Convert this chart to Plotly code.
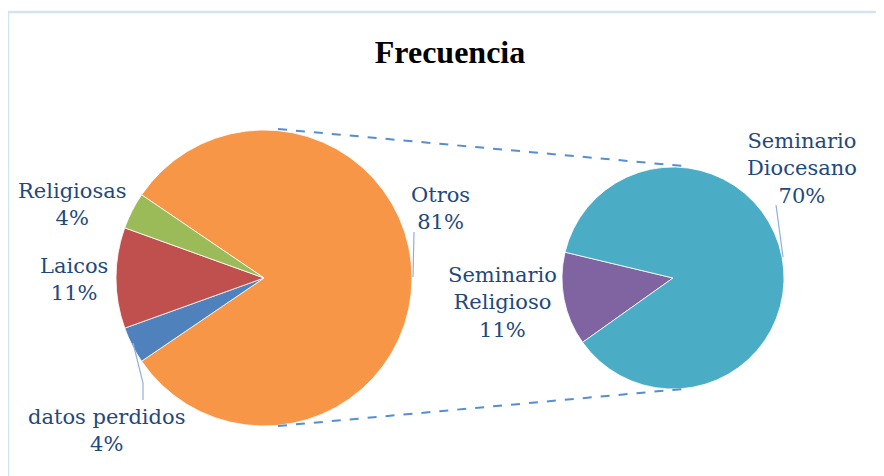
import plotly.graph_objects as go

W, H = 884, 476
OFF = 8  # page body margin of the browser

# data
main_labels = ["Otros", "datos perdidos", "Laicos", "Religiosas"]
main_values = [81, 4, 11, 4]
main_colors = ["#F79646", "#4F81BD", "#C0504D", "#9BBB59"]

sub_labels = ["Seminario Religioso", "Seminario Diocesano"]
sub_values = [11, 70]
sub_colors = ["#8064A2", "#4BACC6"]

total = sum(main_values)

TEXT_COLOR = "#1F497D"
LEADER_COLOR = "rgba(141, 177, 226, 1)"
DASH_COLOR = "rgba(85, 142, 213, 1)"
FONT = "DejaVu Serif"


def px(x):
    return (x - OFF) / W


def py(y):
    return 1 - (y - OFF) / H


def pct(v):
    return f"{round(100 * v / total)}%"


fig = go.Figure()

# main pie: "Otros" centred at 3 o'clock
main_rot = 90 - 360 * main_values[0] / total / 2
fig.add_trace(
    go.Pie(
        labels=main_labels,
        values=main_values,
        sort=False,
        direction="clockwise",
        rotation=main_rot,
        marker=dict(colors=main_colors, line=dict(color="white", width=0.8)),
        textinfo="none",
        hoverinfo="label+value",
        showlegend=False,
        domain=dict(x=[px(116), px(412)], y=[py(426), py(130)]),
    )
)

# secondary pie: "Seminario Religioso" centred a little below 9 o'clock
sub_total = sum(sub_values)
sub_rot = 259 - 360 * sub_values[0] / sub_total / 2
fig.add_trace(
    go.Pie(
        labels=sub_labels,
        values=sub_values,
        sort=False,
        direction="clockwise",
        rotation=sub_rot,
        marker=dict(colors=sub_colors, line=dict(color="white", width=0.8)),
        textinfo="none",
        hoverinfo="label+value",
        showlegend=False,
        domain=dict(x=[px(562), px(784)], y=[py(389), py(167)]),
    )
)

# label positions (pixel centres)
label_pos = {
    "Otros": (440, 208),
    "datos perdidos": (106, 430),
    "Laicos": (74, 279),
    "Religiosas": (72, 204),
    "Seminario Religioso": (502, 302),
    "Seminario Diocesano": (802, 168),
}
all_labels = main_labels[1:] + main_labels[:1] + sub_labels
all_values = main_values[1:] + main_values[:1] + sub_values
for lab, val in zip(all_labels, all_values):
    x, y = label_pos[lab]
    txt = lab.replace(" ", "<br>") if lab.startswith("Seminario") else lab
    fig.add_annotation(
        x=px(x),
        y=py(y),
        xref="paper",
        yref="paper",
        xanchor="center",
        yanchor="middle",
        text=f"{txt}<br>{pct(val)}",
        showarrow=False,
        align="center",
        font=dict(family=FONT, size=21, color=TEXT_COLOR),
    )

# leader lines
for path in [
    "M {} {} L {} {}".format(px(414), py(232), px(413), py(277)),
    "M {} {} L {} {}".format(px(776), py(205), px(783), py(257)),
    "M {} {} L {} {} L {} {}".format(px(133), py(343), px(143), py(383), px(143), py(400)),
]:
    fig.add_shape(type="path", path=path, xref="paper", yref="paper",
                  line=dict(color=LEADER_COLOR, width=1.2))

# connector lines between the pies
for (x0, y0), (x1, y1) in [((278, 129), (683, 166)), ((278, 426), (683, 389))]:
    fig.add_shape(type="line", xref="paper", yref="paper",
                  x0=px(x0), y0=py(y0), x1=px(x1), y1=py(y1),
                  line=dict(color=DASH_COLOR, width=2, dash="dash"))

# chart frame
fig.add_shape(type="rect", xref="paper", yref="paper",
              x0=px(8), y0=py(500), x1=px(910), y1=py(12),
              line=dict(color="rgba(213, 226, 242, 1)", width=2.5))

fig.update_layout(
    width=W,
    height=H,
    margin=dict(l=0, r=0, t=0, b=0),
    paper_bgcolor="white",
    plot_bgcolor="white",
    title=dict(
        text="<b>Frecuencia</b>",
        x=px(450),
        xanchor="center",
        y=py(52),
        yanchor="middle",
        font=dict(family="Liberation Serif", size=32, color="black"),
    ),
)

fig.write_html("out.html")
